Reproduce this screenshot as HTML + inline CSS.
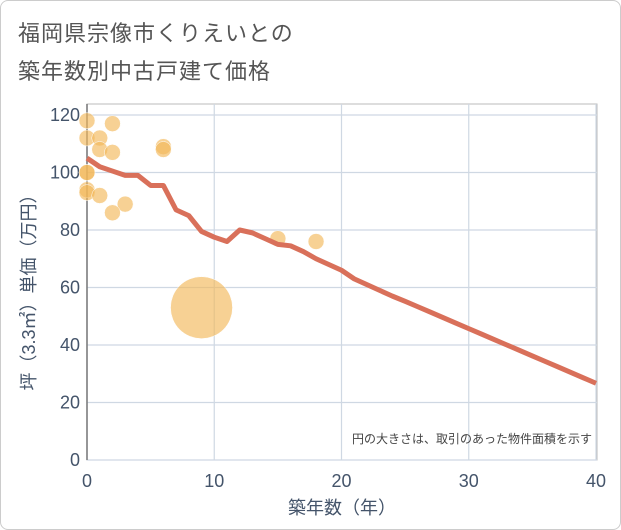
<!DOCTYPE html>
<html><head><meta charset="utf-8"><style>
body{margin:0;background:#fff;font-family:"Liberation Sans","Noto Sans CJK JP",sans-serif}
#wrap{position:relative;width:619px;height:528px;border:1px solid #ccc;border-radius:8px;background:#fff}
.title{position:absolute;left:17px;font-size:22px;color:#555;letter-spacing:1px}
</style></head><body>
<div id="wrap">
<div class="title" style="top:15px">福岡県宗像市くりえいとの</div>
<div class="title" style="top:53px">築年数別中古戸建て価格</div>
<svg id="chart" width="621" height="530" style="position:absolute;left:-1px;top:-1px"></svg>
</div>
<script>
const xTicks=[0,10,20,30,40];
const yTicks=[0,20,40,60,80,100,120];
const ptAge=[0,2,0,1,1,2,6,6,0,0,0,0,1,3,2,15,18,9];
const ptPrice=[118,117,112,112,108,107,109,108,100,100,94,93,92,89,86,77,76,53];
const ptRadius=[8,8,8,8,8,8,8,8,8,8,8,8,8,8,8,8,8,31];
const lineAge=[0,1,2,3,4,5,6,7,8,9,10,11,12,13,14,15,16,17,18,19,20,21,22,23,24,25,26,27,28,29,30,31,32,33,34,35,36,37,38,39,40];
const linePrice=[105,102,100.5,99,99,95.5,95.5,87,85,79.5,77.5,76,80,79,77,75,74.5,72.5,70,68,66,63,61,59,57,55.2,53.3,51.4,49.5,47.6,45.7,43.8,41.9,40,38.1,36.2,34.3,32.4,30.5,28.6,26.7];
const NS='http://www.w3.org/2000/svg';
const svg=document.getElementById('chart');
const X0=87,X1=596,Y0=460,Y1=115;
const sx=v=>X0+(v-0)/(40-0)*(X1-X0);
const sy=v=>Y0-(v-0)/(120-0)*(Y0-Y1);
function mk(t,a,p){const e=document.createElementNS(NS,t);for(const k in a)e.setAttribute(k,a[k]);(p||svg).appendChild(e);return e;}
const frame=mk('rect',{x:87,y:104,width:510,height:356,fill:'none',stroke:'#bbb'});


xTicks.forEach(t=>{
 const g=mk('line',{x1:sx(t),x2:sx(t),y1:104,y2:460,stroke:'#cfd8e3','stroke-width':1.2});
 
 
 const l=mk('text',{x:sx(t),y:487,'text-anchor':'middle','font-size':18,fill:'#44546a'});
 l.textContent=t;
 
 
});
yTicks.forEach(t=>{
 const g=mk('line',{x1:87,x2:597,y1:sy(t),y2:sy(t),stroke:'#cfd8e3','stroke-width':1.2});
 
 
 const l=mk('text',{x:80,y:sy(t)+6,'text-anchor':'end','font-size':18,fill:'#44546a'});
 l.textContent=t;
 
 
});
const ax=mk('line',{x1:87,x2:87,y1:104,y2:460,stroke:'#777','stroke-width':1.5});


ptAge.forEach((a,i)=>{
 const c=mk('circle',{cx:sx(a),cy:sy(ptPrice[i]),r:ptRadius[i],fill:'#f2b95a','fill-opacity':0.65,stroke:'#fff','stroke-width':0.5});
 
 
});
const d=lineAge.map((a,i)=>(i?'L':'M')+sx(a)+','+sy(linePrice[i])).join(' ');
const p=mk('path',{d:d,fill:'none',stroke:'#d9705a','stroke-width':5,'stroke-linejoin':'round'});


const note=mk('text',{x:592,y:443,'text-anchor':'end','font-size':12,fill:'#444'});
note.textContent='円の大きさは、取引のあった物件面積を示す';


const xt=mk('text',{x:342,y:514,'text-anchor':'middle','font-size':18,fill:'#44546a'});
xt.textContent='築年数（年）';


const yt=mk('text',{x:0,y:0,'text-anchor':'middle','font-size':18,fill:'#44546a',transform:'translate(35,288) rotate(-90)'});
yt.textContent='坪（3.3㎡）単価（万円）';


</script>
</body></html>
